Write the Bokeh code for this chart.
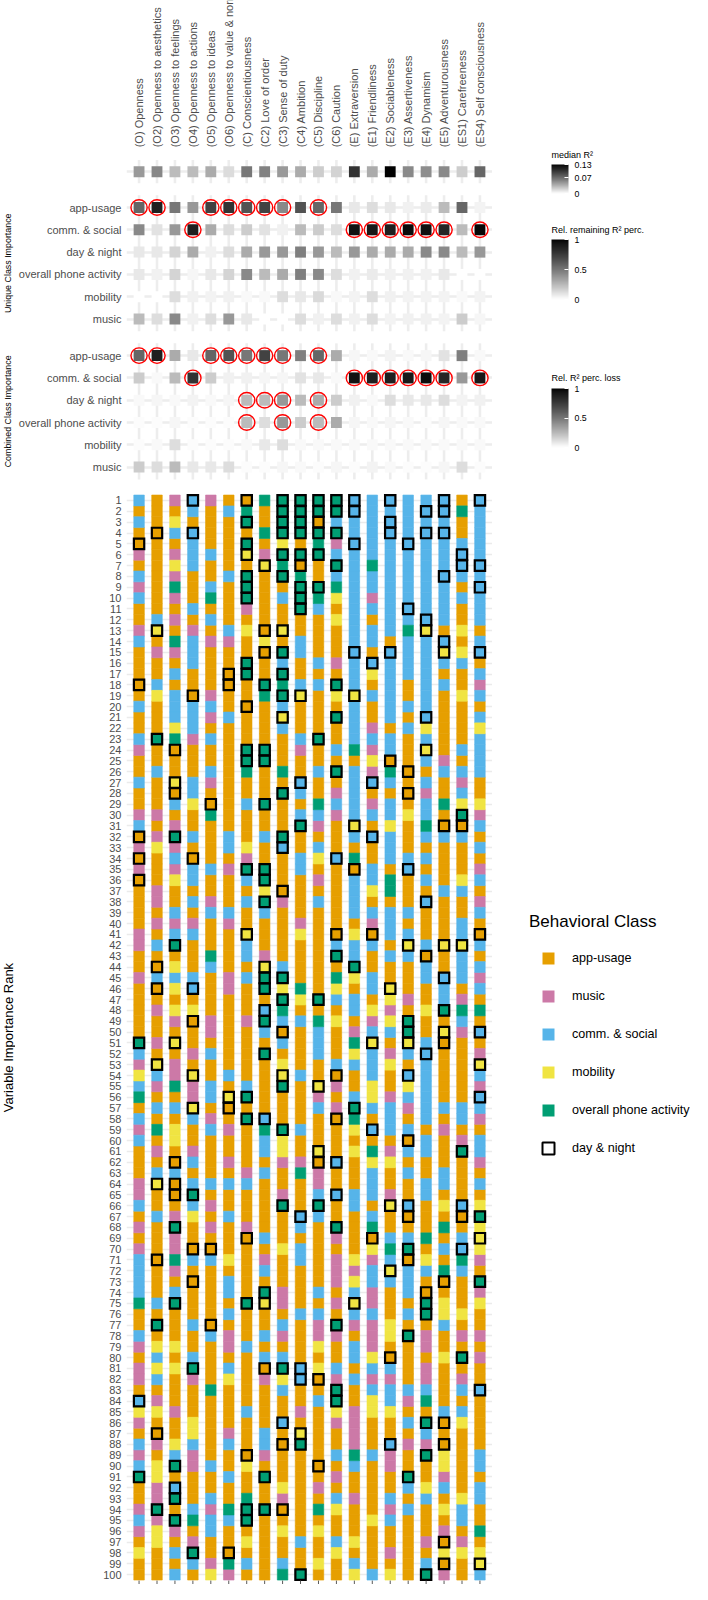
import math
from bokeh.plotting import figure
from bokeh.layouts import row
from bokeh.models import (FactorRange, Range1d, FixedTicker, ColorBar, LinearColorMapper,
                          Legend, LegendItem)
from bokeh.core.properties import value
from bokeh.embed import file_html
from bokeh.resources import INLINE

# ---------------- data ----------------
TRAITS = ["(O) Openness", "(O2) Openness to aesthetics", "(O3) Openness to feelings",
          "(O4) Openness to actions", "(O5) Openness to ideas", "(O6) Openness to value & norms",
          "(C) Conscientiousness", "(C2) Love of order", "(C3) Sense of duty", "(C4) Ambition",
          "(C5) Discipline", "(C6) Caution", "(E) Extraversion", "(E1) Friendliness",
          "(E2) Sociableness", "(E3) Assertiveness", "(E4) Dynamism", "(E5) Adventurousness",
          "(ES1) Carefreeness", "(ES4) Self consciousness"]

MEDIAN_R2 = [0.048, 0.057, 0.031, 0.031, 0.039, 0.016, 0.065, 0.06, 0.048, 0.039,
             0.023, 0.02, 0.103, 0.039, 0.13, 0.056, 0.054, 0.056, 0.023, 0.074]

MATRIX_ROWS = ["app-usage", "comm. & social", "day & night", "overall phone activity", "mobility", "music"]

# Unique class importance (relative remaining R² percentage)
uniq_app = [0.57, 0.88, 0.5, 0.37, 0.72, 0.79, 0.65, 0.72, 0.43, 0.65, 0.57, 0.5, 0.08, 0.12, 0.08, 0.05, 0.07, 0.24, 0.57, 0.04]
uniq_comm = [0.43, 0.1, 0.37, 0.88, 0.3, 0.12, 0.18, 0.1, 0.05, 0.24, 0.18, 0.12, 0.95, 0.92, 0.88, 0.97, 0.95, 0.85, 0.24, 0.98]
uniq_daynight = [0.08, 0.08, 0.15, 0.3, 0.05, 0.12, 0.3, 0.37, 0.37, 0.47, 0.37, 0.24, 0.37, 0.3, 0.3, 0.3, 0.43, 0.43, 0.24, 0.37]
uniq_overall = [0.08, 0.05, 0.15, 0.03, 0.08, 0.15, 0.43, 0.24, 0.3, 0.47, 0.43, 0.12, 0.05, 0.07, 0.05, 0.05, 0.05, 0.08, 0.0, 0.0]
uniq_mobility = [0.0, 0.0, 0.12, 0.05, 0.04, 0.05, 0.02, 0.02, 0.12, 0.08, 0.13, 0.02, 0.04, 0.12, 0.05, 0.04, 0.04, 0.04, 0.02, 0.04]
uniq_music = [0.24, 0.12, 0.43, 0.05, 0.12, 0.37, 0.08, 0.0, 0.0, 0.12, 0.05, 0.12, 0.05, 0.12, 0.04, 0.05, 0.05, 0.04, 0.18, 0.03]

# Combined class importance (relative R² percentage loss)
comb_app = [0.57, 0.88, 0.3, 0.08, 0.57, 0.65, 0.5, 0.72, 0.5, 0.47, 0.57, 0.3, 0.03, 0.02, 0.04, 0.02, 0.03, 0.1, 0.47, 0.02]
comb_comm = [0.18, 0.02, 0.24, 0.79, 0.18, 0.05, 0.05, 0.03, 0.03, 0.1, 0.08, 0.02, 0.95, 0.88, 0.88, 0.92, 0.97, 0.85, 0.37, 0.92]
comb_daynight = [0.02, 0.03, 0.02, 0.04, 0.02, 0.03, 0.24, 0.24, 0.37, 0.24, 0.3, 0.18, 0.05, 0.02, 0.12, 0.08, 0.08, 0.12, 0.04, 0.05]
comb_overall = [0.01, 0.01, 0.03, 0.01, 0.01, 0.01, 0.24, 0.12, 0.37, 0.18, 0.24, 0.3, 0.03, 0.02, 0.03, 0.02, 0.01, 0.03, 0.02, 0.02]
comb_mobility = [0.01, 0.02, 0.12, 0.01, 0.01, 0.01, 0.02, 0.08, 0.12, 0.02, 0.02, 0.02, 0.02, 0.02, 0.02, 0.02, 0.02, 0.02, 0.02, 0.02]
comb_music = [0.18, 0.12, 0.24, 0.08, 0.08, 0.12, 0.01, 0.01, 0.03, 0.02, 0.01, 0.03, 0.01, 0.04, 0.02, 0.01, 0.01, 0.03, 0.12, 0.01]

# red circles (1 = highlighted)
circ_app = [1, 1, 0, 0, 1, 1, 1, 1, 1, 0, 1, 0, 0, 0, 0, 0, 0, 0, 0, 0]
circ_comm = [0, 0, 0, 1, 0, 0, 0, 0, 0, 0, 0, 0, 1, 1, 1, 1, 1, 1, 0, 1]
circ_none = [0] * 20
circ_comb_daynight = [0, 0, 0, 0, 0, 0, 1, 1, 1, 0, 1, 0, 0, 0, 0, 0, 0, 0, 0, 0]
circ_comb_overall = [0, 0, 0, 0, 0, 0, 1, 0, 1, 0, 1, 0, 0, 0, 0, 0, 0, 0, 0, 0]

UNIQUE_VALUES = [uniq_app, uniq_comm, uniq_daynight, uniq_overall, uniq_mobility, uniq_music]
UNIQUE_CIRCLES = [circ_app, circ_comm, circ_none, circ_none, circ_none, circ_none]
COMBINED_VALUES = [comb_app, comb_comm, comb_daynight, comb_overall, comb_mobility, comb_music]
COMBINED_CIRCLES = [circ_app, circ_comm, circ_comb_daynight, circ_comb_overall, circ_none, circ_none]

# Behavioral classes; codes used in the rank table (lower case = day & night variable)
CLASS_CODES = ["A", "M", "C", "Y", "P"]
CLASS_NAMES = ["app-usage", "music", "comm. & social", "mobility", "overall phone activity"]
CLASS_COLORS = ["#E69F00", "#CC79A7", "#56B4E9", "#F0E442", "#009E73"]

# rank 1..100, one string per rank, one character per trait column
RANK_ROWS = [
    "CAMcMAaPppppcCcCCcAc", "AAACACPAppppcCCCccPC", "CAYAAApAppaCCCcCCCAC", "AaCcAAAPppppCCcCccAC",
    "aAACAApAYAPMcCCcCCCC", "MAMCCAyMpppCCCCCCCcC", "AAYCAAAyPaApCPCCCCcc", "CAMAACpApPACCCCCCcCC",
    "MAPACApAAppPCCCCCCAc", "CAMAPApACpPYCMCCCCCC", "AAACAAMAApCACCCcCCAC", "ACMACAAAAAAYCACCcCAC",
    "MyAMACYayAAACCCPyAYA", "CAPCMMAYACAACCACCcAC", "AMMCAAAapCAAcAcCCyYc", "AAACAApACACMCcCCCCCA",
    "AACAAapApAAACYCCCAAC", "aCAAAaApPCCpCACACCAM", "AYCaMAAPpyAYyCCACAYC", "CACCCAaACAAACACCCAAA",
    "AACCMCAAyAApCACAcAAC", "AAYCAAAACAAACMACYAAY", "CpPMCAAAACpACCCACAAC", "MAaAAAppAMACPMCAyACC",
    "AAAAAAppAAAAAYaACMAC", "ACAACAPAPACpCMPaACCC", "CAyCMAAAAcAACcCACAMA", "AAaCAAAApCAMCAAaMACA",
    "AACYaACpAAPCCMCACPYY", "MMAAPAAAACCMCCCYCApM", "CAMAAAAAApMAyAYAPaaC", "aMpCACACpAAACcCACCCA",
    "MYMAACYAcACAAACAAAAC", "aACaAAMAACYcPACCCAAA", "MAMCCMppACAAaCAcAAAM", "aAYCAACpAAMACCPACAYC",
    "AMAAAAAYaAAACYPAACCA", "AMACMACpMACACAAAcAAM", "AACACCACAAAACCCCAAAC", "AMMMAMAAAMAAAMCAAACA",
    "MACCAAyAAYAaYaCCAACa", "MCpAAACAAAACCCAyCyyC", "AAAAPACMAAApCACCaACA", "AaYACAAyCAAApAAACACC",
    "MCCCAMCppAAPYCAACcCM", "AaYcAMApYPAYACyAACAC", "AAAAAAAApYpCCAYMACMA", "AMYYAAAcPAAACYMAYpPP",
    "AAMaMAMpCCPYAMYpAACA", "AAAAMAACaACAMCCpAyMc", "pMyAAAAACACAPyAyCaAA", "CAAMCAApAACAYCMCcAAM",
    "MyMAAAAAYAACCCYACAAy", "YCMyACAAyCAaACAcCAAC", "CMPMCACApAyMAYAYCAAM", "PAAMCypAAAMACYMCCAAc",
    "ACCyAaAAAACMpCCMCCCC", "CAACMApcAAAaPACACACM", "MPYACMAPpCAAYcCCAMAA", "CAYAAAACYAAAAAAaCAMC",
    "AMAMAAACYAyAYPMCCApC", "AAaCAMAAMMacAYYAAAAM", "ACCAAAMCAPMAACACACAA", "MyaCCCCAAAMAACAACCAC",
    "MAapAAAAMACcCCMACAAA", "CAACMAAApApACAycAYcY", "ACMYACAAAcCAACAaAAap", "MApAMAMAACApAPAAAPAY",
    "AAMAAAaCAAAMAaCCPACy", "MAMaaAAAYCAAAYPpACcY", "CaPCCYAMACAMYMCaYAPM", "CAMAAAACAAAMMCyCCPCA",
    "CAAaACAAAAAMYCCCAaAp", "CACAACApMACACMACaAAM", "PCpAAApyMAAMyMAApYAY", "AAAAACAAACCACCACpYYA",
    "ApACaAAACAMpMMYAACAA", "CAAACMACMAMMAMYpMAMM", "MYYAAMCAAAYACMAAMAAA", "ACACAAACCAAACYaAAYpM",
    "MYYpACAapcYCACCAMAAA", "MCAMAYAMYcaMCMMAMAMA", "AAAAPAAACAApACCCCACc", "cMAAAAAAAACpAYCMPAAA",
    "YYMAAACAAMAYMYYAACCA", "MAAYAAAAcAAMMAACpaYA", "AaAYAMACAyAAMAAACAAA", "CMYCACACapAAMAcMMaAA",
    "MACMAAaMAAACPCMApYAC", "CYpMCAYAAAaACAMAAYAC", "pYAAACApAAAMAAApAMAA", "AMcAAAAAYAMAAAACYCAC",
    "AMpACAPAMAACMACACAYC", "MpACMPppaAPYAAMCAYCA", "CMpPCCpAAAAAAYCAAACA", "MYMACAAAYAYAAAAAAMAP",
    "AYAMAAYAACACYAAAMaMA", "YACpAaAAAAAYAAMAAYYY", "AAACMPCACAYACAAACaAy", "AACAYMAAPpAAYCYApMAC",
]

# ---------------- layout constants ----------------
FONT = "Liberation Sans"
H = 1584
LEFT_W, MAIN_W, RIGHT_W = 15, 477, 200
FW = 368 / 20.2          # px per trait column
ROW = 10.85              # px per rank row
GAP = 22.3 / ROW         # matrix row spacing (rank units)
MEDIAN_Y = -29.3
UNIQUE_Y0 = -26.0
COMBINED_Y0 = -12.35
HEADER_Y = -31.55
PANEL_BOTTOM = 100.55
Y_TOP, Y_BOTTOM = -45.08, 100.91


def lab_gray(t):
    """white -> black gradient interpolated in CIE Lab lightness"""
    t = min(max(t, 0.0), 1.0)
    L = 100.0 * (1.0 - t)
    fy = (L + 16.0) / 116.0
    Y = fy ** 3 if fy ** 3 > 0.008856 else L / 903.3
    c = 12.92 * Y if Y <= 0.0031308 else 1.055 * Y ** (1 / 2.4) - 0.055
    v = int(round(255 * min(max(c, 0.0), 1.0)))
    return "#%02x%02x%02x" % (v, v, v)


PALETTE = [lab_gray(i / 255) for i in range(256)]


def bare(fig):
    fig.background_fill_color = "white"
    fig.border_fill_color = "white"
    fig.outline_line_color = None
    fig.xgrid.visible = False
    fig.ygrid.visible = False
    return fig


yr = Range1d(Y_BOTTOM, Y_TOP)

# ================= main panel =================
p = figure(width=MAIN_W, height=H,
           x_range=FactorRange(factors=TRAITS, range_padding=0.2, range_padding_units="absolute"),
           y_range=yr, x_axis_location=None,
           output_backend="svg", toolbar_location=None,
           min_border_left=MAIN_W - 368, min_border_right=0, min_border_top=0, min_border_bottom=0)
bare(p)

unique_ys = [UNIQUE_Y0 + i * GAP for i in range(6)]
combined_ys = [COMBINED_Y0 + i * GAP for i in range(6)]
ranks = list(range(1, len(RANK_ROWS) + 1))

# grid lines
p.hspan(y=ranks, line_color="#EBEBEB", line_width=1.6)
p.hspan(y=[MEDIAN_Y] + unique_ys + combined_ys, line_color="#EDEDED", line_width=2.6)
panels = [(MEDIAN_Y - 0.52 * GAP, MEDIAN_Y + 0.52 * GAP),
          (UNIQUE_Y0 - 0.55 * GAP, unique_ys[-1] + 0.55 * GAP),
          (COMBINED_Y0 - 0.55 * GAP, combined_ys[-1] + 0.55 * GAP)]
seg_x, seg_y0, seg_y1 = [], [], []
for top, bot in panels:
    for t in TRAITS:
        seg_x.append(t)
        seg_y0.append(top)
        seg_y1.append(bot)
p.segment(x0=seg_x, y0=seg_y0, x1=seg_x, y1=seg_y1, line_color="#EDEDED", line_width=2.6)

# importance matrices
MAT_W, MAT_H = 11 / FW, 11 / ROW
mx, my, mc = [], [], []
cx, cy = [], []
for j, t in enumerate(TRAITS):
    mx.append(t); my.append(MEDIAN_Y); mc.append(lab_gray(MEDIAN_R2[j] / 0.13))
for ys, vals, circs in [(unique_ys, UNIQUE_VALUES, UNIQUE_CIRCLES),
                        (combined_ys, COMBINED_VALUES, COMBINED_CIRCLES)]:
    for i in range(6):
        for j, t in enumerate(TRAITS):
            mx.append(t); my.append(ys[i]); mc.append(lab_gray(vals[i][j]))
            if circs[i][j]:
                cx.append(t); cy.append(ys[i])
p.rect(x=mx, y=my, width=MAT_W, height=MAT_H, fill_color=mc, line_color=None)
p.ellipse(x=cx, y=cy, width=16.5 / FW, height=15.5 / ROW, fill_color=None,
          line_color="#FF0000", line_width=1.4)

# rank table
RANK_W = 10.7 / FW
for code, color in zip(CLASS_CODES, CLASS_COLORS):
    xs, ys = [], []
    for r, rowstr in zip(ranks, RANK_ROWS):
        for j, ch in enumerate(rowstr[:len(TRAITS)]):
            if ch.upper() == code:
                xs.append(TRAITS[j]); ys.append(r)
    p.rect(x=xs, y=ys, width=RANK_W, height=1.0, fill_color=color,
           line_color=color, line_width=0.6)

ox, oy = [], []
for r, rowstr in zip(ranks, RANK_ROWS):
    for j, ch in enumerate(rowstr[:len(TRAITS)]):
        if ch.islower():
            ox.append(TRAITS[j]); oy.append(r)
p.rect(x=ox, y=oy, width=10.5 / FW, height=10.5 / ROW, fill_color=None,
       line_color="black", line_width=2.2, line_join="miter")

# small x ticks under the rank table
p.segment(x0=TRAITS, y0=[PANEL_BOTTOM] * len(TRAITS), x1=TRAITS, y1=[Y_BOTTOM] * len(TRAITS),
          line_color="#5A5A5A", line_width=1)

# column header labels
p.text(x=TRAITS, y=[HEADER_Y] * len(TRAITS), text=TRAITS, angle=math.pi / 2,
       text_align="left", text_baseline="middle", text_font=value(FONT),
       text_font_size=value("11px"), text_color="#4D4D4D")

# y axis: matrix rows and ranks
ticks = unique_ys + combined_ys + ranks
overrides = {}
for yv, name in zip(unique_ys, MATRIX_ROWS):
    overrides[yv] = name
for yv, name in zip(combined_ys, MATRIX_ROWS):
    overrides[yv] = name
for r in ranks:
    overrides[r] = str(r)
yax = p.yaxis[0]
yax.ticker = FixedTicker(ticks=ticks)
yax.major_label_overrides = overrides
yax.major_label_text_font = FONT
yax.major_label_text_font_size = "11px"
yax.major_label_text_color = "#4D4D4D"
yax.major_label_standoff = 5
yax.major_tick_out = 0
yax.major_tick_in = 0
yax.major_tick_line_color = None
yax.minor_tick_line_color = None
yax.axis_line_color = None

# ================= left strip: axis titles =================
left = figure(width=LEFT_W, height=H, x_range=Range1d(0, LEFT_W), y_range=yr,
              x_axis_type=None, y_axis_type=None, output_backend="svg", toolbar_location=None,
              min_border=0)
bare(left)
left.text(x=[LEFT_W / 2], y=[50.5], text=["Variable Importance Rank"], angle=math.pi / 2,
          text_align="center", text_baseline="middle", text_font=value(FONT),
          text_font_size=value("13px"), text_color="black")
left.text(x=[LEFT_W / 2, LEFT_W / 2], y=[UNIQUE_Y0 + 2.5 * GAP, COMBINED_Y0 + 2.5 * GAP],
          text=["Unique Class Importance", "Combined Class Importance"], angle=math.pi / 2,
          text_align="center", text_baseline="middle", text_font=value(FONT),
          text_font_size=value("8.9px"), text_color="black")

# ================= right strip: legends =================
right = figure(width=RIGHT_W, height=H, x_range=Range1d(500, 700), y_range=Range1d(8 + H, 8),
               x_axis_type=None, y_axis_type=None, output_backend="svg", toolbar_location=None,
               min_border=0)
bare(right)


def colorbar(high, tick_vals, tick_labels, bar_h, loc):
    mapper = LinearColorMapper(palette=PALETTE, low=0, high=high)
    cb = ColorBar(color_mapper=mapper, location=loc, orientation="vertical",
                  width=17, height=bar_h, padding=0, margin=0, title=None,
                  ticker=FixedTicker(ticks=tick_vals),
                  major_label_overrides=dict(zip(tick_vals, tick_labels)),
                  major_label_text_font=FONT, major_label_text_font_size="8.8px",
                  major_label_text_color="black", label_standoff=6,
                  major_tick_line_color="white", major_tick_in=4, major_tick_out=0,
                  minor_tick_line_color=None, bar_line_color=None,
                  border_line_color=None, background_fill_color=None)
    right.add_layout(cb)


colorbar(0.13, [0, 0.07, 0.13], ["0", "0.07", "0.13"], 29, (59, 1391))
colorbar(1, [0, 0.5, 1], ["0", "0.5", "1"], 60, (59, 1285))
colorbar(1, [0, 0.5, 1], ["0", "0.5", "1"], 59, (59, 1137))
right.text(x=[559, 559, 559], y=[162, 237, 385.7],
           text=["median R\u00b2", "Rel. remaining R\u00b2 perc.", "Rel. R\u00b2 perc. loss"],
           text_align="left", text_baseline="middle", text_font=value(FONT),
           text_font_size=value("9px"), text_color="black")

legend_items = []
for name, color in zip(CLASS_NAMES, CLASS_COLORS):
    r = right.scatter(x=[500], y=[float("nan")], marker="square", size=12,
                      fill_color=color, line_color=None)
    legend_items.append(LegendItem(label=name, renderers=[r]))
dn = right.scatter(x=[500], y=[float("nan")], marker="square", size=12,
                   fill_color=None, line_color="black", line_width=2)
legend_items.append(LegendItem(label="day & night", renderers=[dn]))

legend = Legend(items=legend_items, location=(37, 421), title="Behavioral Class",
                title_text_font=FONT, title_text_font_size="17px", title_text_font_style="normal",
                title_text_color="black", title_standoff=11,
                label_text_font=FONT, label_text_font_size="12.6px", label_text_color="black",
                glyph_width=38, glyph_height=30, label_height=30, spacing=8, label_standoff=5,
                padding=0, margin=0, border_line_color=None, background_fill_alpha=0)
right.add_layout(legend)

layout = row(left, p, right, spacing=0)
open("out.html", "w").write(file_html(layout, INLINE))
